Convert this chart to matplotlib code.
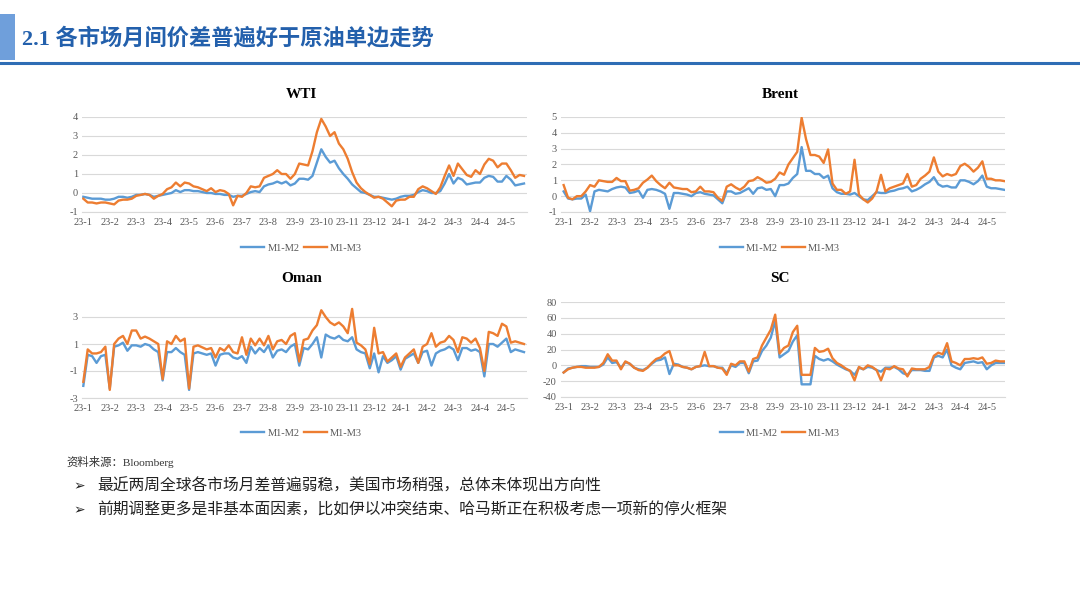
import numpy as np
import matplotlib
matplotlib.use("Agg")
import matplotlib.pyplot as plt
from matplotlib.patches import Rectangle
from matplotlib.lines import Line2D

plt.rcParams['font.family'] = ['Liberation Serif', 'Noto Sans CJK SC', 'DejaVu Sans']
plt.rcParams['axes.unicode_minus'] = False

month_labels = ["23-1", "23-2", "23-3", "23-4", "23-5", "23-6", "23-7", "23-8", "23-9",
                "23-10", "23-11", "23-12", "24-1", "24-2", "24-3", "24-4", "24-5"]
series_names = ["M1-M2", "M1-M3"]

# ~6 observations per month, Jan 2023 .. late May 2024
wti_m1m2 = [-0.2, -0.25, -0.3, -0.3, -0.3, -0.35,
            -0.35, -0.3, -0.2, -0.2, -0.25, -0.2,
            -0.1, -0.1, -0.05, -0.1, -0.2, -0.15,
            -0.1, -0.05, 0.0, 0.15, 0.05, 0.15,
            0.15, 0.1, 0.1, 0.05, 0.0, 0.0,
            -0.05, -0.05, -0.1, -0.1, -0.2, -0.15,
            -0.15, -0.05, 0.05, 0.1, 0.05, 0.35,
            0.45, 0.5, 0.6, 0.5, 0.6, 0.4,
            0.5, 0.75, 0.75, 0.7, 0.9, 1.6,
            2.3, 1.9, 1.6, 1.7, 1.3, 1.0,
            0.75, 0.45, 0.25, 0.05, 0.0, -0.1,
            -0.2, -0.2, -0.25, -0.3, -0.35, -0.3,
            -0.2, -0.15, -0.15, -0.1, 0.05, 0.15,
            0.1, 0.0, 0.0, 0.1, 0.5, 1.0,
            0.5, 0.8, 0.7, 0.45, 0.5, 0.55,
            0.55, 0.8, 0.9, 0.85, 0.6, 0.6,
            0.9, 0.7, 0.4, 0.45, 0.5]
wti_m1m3 = [-0.3, -0.5, -0.5, -0.55, -0.5, -0.5,
            -0.55, -0.6, -0.4, -0.35, -0.35, -0.3,
            -0.15, -0.1, -0.05, -0.1, -0.3, -0.15,
            -0.05, 0.2, 0.3, 0.55, 0.35, 0.55,
            0.5, 0.35, 0.3, 0.2, 0.1, 0.25,
            0.05, 0.15, 0.1, -0.05, -0.65, -0.15,
            -0.2, 0.0, 0.35, 0.3, 0.35, 0.8,
            0.9, 1.0, 1.2, 1.0, 1.0, 0.75,
            1.0, 1.55, 1.5, 1.45, 2.2, 3.2,
            3.9, 3.5, 3.0, 3.2, 2.6, 2.3,
            1.8, 1.1, 0.55, 0.25, 0.05, -0.1,
            -0.25, -0.2, -0.3, -0.5, -0.7, -0.4,
            -0.35, -0.35, -0.2, -0.2, 0.2, 0.35,
            0.25, 0.1, -0.05, 0.3, 0.9, 1.45,
            0.9, 1.55, 1.25, 0.95, 0.85, 1.2,
            1.0, 1.5, 1.8, 1.7, 1.35, 1.55,
            1.55, 1.2, 0.8, 0.95, 0.9]

brent_m1m2 = [0.3, -0.15, -0.2, -0.15, -0.15, 0.1,
              -0.95, 0.3, 0.4, 0.35, 0.3, 0.45,
              0.55, 0.6, 0.55, 0.2, 0.25, 0.35,
              -0.1, 0.4, 0.45, 0.4, 0.3, 0.15,
              -0.8, 0.2, 0.2, 0.15, 0.1, 0.0,
              0.2, 0.25, 0.15, 0.1, 0.05, -0.2,
              -0.45, 0.3, 0.3, 0.15, 0.2, 0.35,
              0.5, 0.15, 0.5, 0.55, 0.4, 0.45,
              0.0, 0.7, 0.7, 0.8, 1.15, 1.4,
              3.1, 1.6, 1.6, 1.4, 1.4, 1.15,
              1.3, 0.5, 0.25, 0.15, 0.15, 0.1,
              0.2, 0.0, -0.2, -0.25, 0.0, 0.25,
              0.2, 0.2, 0.3, 0.35, 0.45, 0.5,
              0.6, 0.3, 0.4, 0.55, 0.75, 0.9,
              1.2, 0.75, 0.6, 0.65, 0.55, 0.55,
              1.0, 1.0, 0.9, 0.75, 0.95, 1.3,
              0.6, 0.5, 0.5, 0.45, 0.4]
brent_m1m3 = [0.7, -0.1, -0.2, 0.0, 0.0, 0.3,
              0.7, 0.6, 1.0, 0.95, 0.9, 0.9,
              1.15, 0.95, 0.95, 0.35, 0.4, 0.5,
              0.85, 1.05, 1.3, 0.95, 0.7, 0.5,
              0.85, 0.55, 0.5, 0.45, 0.45, 0.25,
              0.3, 0.6, 0.3, 0.3, 0.25, -0.1,
              -0.3, 0.6, 0.75, 0.55, 0.4, 0.6,
              0.95, 1.0, 1.2, 1.05, 0.85, 0.9,
              1.1, 1.5, 1.35, 2.0, 2.4, 2.8,
              4.95, 3.6, 2.6, 2.6, 2.5, 2.1,
              2.95, 0.8, 0.4, 0.4, 0.15, 0.3,
              2.3, 0.1, -0.2, -0.4, -0.15, 0.3,
              1.35, 0.3, 0.5, 0.6, 0.7, 0.8,
              1.4, 0.6, 0.7, 1.1, 1.3, 1.55,
              2.45, 1.55, 1.25, 1.4, 1.3, 1.4,
              1.9, 2.05, 1.85, 1.55, 1.8, 2.2,
              1.1, 1.1, 1.0, 1.0, 0.95]

oman_m1m2 = [-2.1, 0.2, 0.1, -0.4, 0.1, 0.2,
             -2.3, 0.8, 0.9, 1.1, 0.5, 0.9,
             0.9, 0.8, 1.0, 0.9, 0.6, 0.4,
             -1.7, 0.4, 0.4, 0.7, 0.4, 0.2,
             -2.4, 0.3, 0.4, 0.3, 0.2, 0.3,
             -0.6, 0.2, 0.3, 0.3, 0.0, -0.1,
             0.1, -0.4, 0.8, 0.3, 0.7, 0.4,
             0.9, 0.0, 0.5, 0.6, 0.4, 0.8,
             1.0, -0.6, 0.7, 0.6, 1.0, 1.5,
             0.0, 1.7, 1.5, 1.4, 1.6, 1.3,
             1.2, 1.5, 0.6, 0.4, 0.3, -0.8,
             0.3, -1.1, 0.1, -0.4, -0.2, 0.1,
             -0.9, -0.1, 0.1, 0.3, -0.4, 0.4,
             0.5, -0.6, 0.3, 0.5, 0.6, 0.8,
             0.6, -0.2, 0.7, 0.7, 0.5, 0.6,
             0.4, -1.4, 1.0, 1.0, 0.8, 1.1,
             1.4, 0.4, 0.6, 0.5, 0.4]
oman_m1m3 = [-1.8, 0.6, 0.3, 0.3, 0.4, 0.8,
             -2.4, 1.0, 1.4, 1.6, 1.0, 2.0,
             2.0, 1.4, 1.55, 1.4, 1.2, 1.0,
             -1.6, 1.2, 1.0, 1.6, 1.2, 1.4,
             -2.3, 0.8, 0.9, 0.75, 0.6, 0.7,
             0.0, 0.7, 0.5, 0.9, 0.4, 0.3,
             1.5, 0.2, 1.4, 0.9, 1.4, 0.9,
             1.6, 0.6, 1.2, 1.3, 1.0, 1.6,
             1.8, -0.3, 1.3, 1.4, 2.0, 2.4,
             3.5, 3.0, 2.6, 2.4, 2.6, 2.3,
             1.8, 3.6, 1.1, 0.9, 0.6, -0.5,
             2.2, 0.3, 0.4, -0.3, 0.0, 0.3,
             -0.7, 0.0, 0.3, 0.6, -0.4, 0.8,
             1.0, 1.8, 0.8, 1.1, 1.2, 1.6,
             1.3, 0.4, 1.5, 1.4, 1.1, 1.4,
             0.7, -1.0, 1.9, 1.8, 1.6, 2.5,
             2.3, 1.1, 1.2, 1.1, 1.0]

sc_m1m2 = [-9, -4, -3, -2, -1, -1,
           -2, -2, -2, 1, 10, 3,
           4, -3, 4, 2, -3, -5,
           -6, -3, 2, 6, 7, 10,
           -11, 2, 1, -2, -3, -5,
           -2, -1, 0, -1, -1, -3,
           -3, -10, 0, -2, 3, 3,
           -10, 5, 6, 18, 25, 35,
           56, 10, 14, 18, 30, 38,
           -24, -24, -24, 12, 8, 6,
           8, 5, 1, -2, -5, -7,
           -12, -3, -5, -2, -3, -6,
           -8, -3, -3, -2, -5, -10,
           -12, -6, -6, -6, -7, -7,
           10, 12, 10, 20, 0, -3,
           -5, 3, 4, 5, 3, 4,
           -5, 0, 3, 3, 3]
sc_m1m3 = [-9, -5, -3, -2, -2, -3,
           -3, -3, -2, 3, 14, 6,
           6, -5, 5, 2, -3, -6,
           -7, -3, 3, 8, 10, 15,
           18, 0, 0, -2, -3, -5,
           -2, -1, 17, -1, -1, -3,
           -4, -12, 2, 0, 5, 5,
           -8, 8, 10, 25, 35, 45,
           64, 15, 22, 25, 42, 50,
           -12, -12, -12, 22, 17, 18,
           21, 9, 3, 0, -4, -7,
           -19, -2, -5, 0, -2, -6,
           -19, -4, -5, -1, -4, -5,
           -14, -4, -5, -5, -5, -2,
           12, 16, 14, 28, 5, 3,
           0, 8, 8, 9, 8, 10,
           2, 3, 6, 5, 5]

BLUE = '#5B9BD5'
ORANGE = '#ED7D31'
GRID = '#D9D9D9'
TICK = '#595959'

W, H = 1080, 608
fig = plt.figure(figsize=(W / 100, H / 100), dpi=100)
fig.patch.set_facecolor('white')


def fx(px):
    return px / W


def fy(py):
    return 1 - py / H


# header
fig.add_artist(Rectangle((0, fy(60)), fx(15), 46 / H, transform=fig.transFigure,
                         facecolor='#6F9FDB', edgecolor='none'))
fig.add_artist(Line2D([0, 1], [fy(62.5), fy(62.5)], transform=fig.transFigure,
                      color='#2E6DB5', lw=2.2))
fig.text(fx(22), fy(39), "2.1 各市场月间价差普遍好于原油单边走势", ha='left', va='center',
         fontsize=16, fontweight='bold', color='#2360AC',
         family=['Liberation Serif', 'Noto Sans CJK SC'])

charts = [
    dict(name="WTI", m2=wti_m1m2, m3=wti_m1m3, box=(82, 527, 117, 212), ylim=(-1, 4),
         yticks=[-1, 0, 1, 2, 3, 4], xlim=(-0.05, 16.78), title_y=94, leg_y=248),
    dict(name="Brent", m2=brent_m1m2, m3=brent_m1m3, box=(561, 1005, 117, 212), ylim=(-1, 5),
         yticks=[-1, 0, 1, 2, 3, 4, 5], xlim=(-0.1, 16.69), title_y=94, leg_y=248),
    dict(name="Oman", m2=oman_m1m2, m3=oman_m1m3, box=(82, 527, 303.5, 398), ylim=(-3, 4),
         yticks=[-3, -1, 1, 3], xlim=(-0.05, 16.78), title_y=279, leg_y=433),
    dict(name="SC", m2=sc_m1m2, m3=sc_m1m3, box=(561, 1005, 302, 397), ylim=(-40, 80),
         yticks=[-40, -20, 0, 20, 40, 60, 80], xlim=(-0.1, 16.69), title_y=279, leg_y=433),
]

for c in charts:
    l, r, t, b = c['box']
    ax = fig.add_axes([fx(l), fy(b), (r - l) / W, (b - t) / H])
    x = np.arange(len(c['m2'])) / 6.0
    ax.plot(x, c['m2'], color=BLUE, lw=1.7, label=series_names[0], zorder=3)
    ax.plot(x, c['m3'], color=ORANGE, lw=1.7, label=series_names[1], zorder=4)
    ax.set_xlim(*c['xlim'])
    ax.set_ylim(*c['ylim'])
    ax.set_yticks(c['yticks'])
    ax.set_xticks(range(len(month_labels)))
    ax.set_xticklabels(month_labels)
    ax.grid(axis='y', color=GRID, lw=0.8, zorder=0)
    ax.set_axisbelow(True)
    for s in ['left', 'right', 'top']:
        ax.spines[s].set_visible(False)
    ax.spines['bottom'].set_color(GRID)
    ax.spines['bottom'].set_linewidth(0.8)
    ax.tick_params(axis='both', length=0, labelsize=7.5, labelcolor=TICK)
    ax.tick_params(axis='x', pad=4)
    ax.tick_params(axis='y', pad=3)
    cx = (l + r) / 2
    fig.text(fx(cx - 3), fy(c['title_y']), c['name'], ha='center', va='center',
             fontsize=11, fontweight='bold', color='black', family='Liberation Serif')
    ax.legend(loc='center', bbox_to_anchor=(fx(cx - 3), fy(c['leg_y'])),
              bbox_transform=fig.transFigure, ncol=2, frameon=False, fontsize=7.5,
              handlelength=2.2, handletextpad=0.3, columnspacing=0.4, labelcolor=TICK)

# footer
fig.text(fx(66), fy(462), "资料来源：Bloomberg", ha='left', va='center', fontsize=8.2,
         color='#333333', family=['Liberation Serif', 'Noto Sans CJK SC'])
bullets = ["最近两周全球各市场月差普遍弱稳，美国市场稍强，总体未体现出方向性",
           "前期调整更多是非基本面因素，比如伊以冲突结束、哈马斯正在积极考虑一项新的停火框架"]
for i, txt in enumerate(bullets):
    yy = 486 + 24 * i
    fig.text(fx(73), fy(yy), "➢", ha='left', va='center', fontsize=10,
             color='#222222', family='DejaVu Sans')
    fig.text(fx(97), fy(yy), txt, ha='left', va='center', fontsize=11.35,
             color='#222222', family=['Noto Sans CJK SC', 'DejaVu Sans'])

fig.savefig("out.png", dpi=100)
